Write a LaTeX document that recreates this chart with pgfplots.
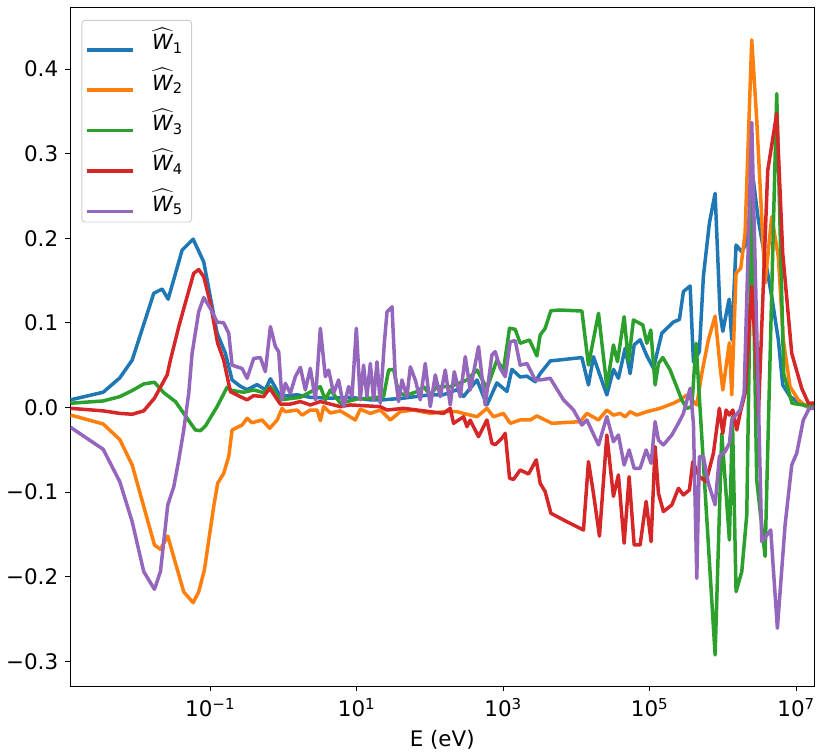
\documentclass[border=0pt]{standalone}
\usepackage{amsmath}
\usepackage{pgfplots}
\pgfplotsset{compat=1.18}
\usepackage{fontspec}
\setmainfont{DejaVu Sans}
\definecolor{c0}{HTML}{1F77B4}
\definecolor{c1}{HTML}{FF7F0E}
\definecolor{c2}{HTML}{2CA02C}
\definecolor{c3}{HTML}{D62728}
\definecolor{c4}{HTML}{9467BD}
\newcommand{\Wh}[1]{$\widehat{\text{\itshape W}}_{\text{#1}}$}
\begin{document}
\fontsize{21.5}{25}\selectfont
\begin{tikzpicture}
\begin{axis}[
  scale only axis, width=743.5bp, height=678.3bp,
  xmin=-2.906, xmax=7.244, ymin=-0.3292, ymax=0.4725,
  axis line style={line width=0.9bp, black},
  tick align=outside, xtick pos=left, ytick pos=left,
  major tick length=5bp, every tick/.style={black, line width=0.9bp},
  xtick={-1,1,3,5,7},
  xticklabels={10\textsuperscript{−1},10\textsuperscript{1},10\textsuperscript{3},10\textsuperscript{5},10\textsuperscript{7}},
  ytick={-0.3,-0.2,-0.1,0,0.1,0.2,0.3,0.4},
  yticklabels={−0.3,−0.2,−0.1,0.0,0.1,0.2,0.3,0.4},
  minor tick num=0,
  xlabel={E (eV)},
  xlabel style={yshift=2bp},
  every axis plot/.append style={line width=3.5bp, line join=round},
  legend cell align=left,
  legend image code/.code={\draw[#1] (0bp,0bp) -- (46.7bp,0bp);},
  legend style={at={(0,1)}, xshift=11bp, yshift=-12.3bp, anchor=north west,
    draw=black!20, line width=0.9bp, rounded corners=3bp, fill=white, fill opacity=0.8, text opacity=1,
    row sep=13.3bp, inner xsep=3bp, inner ysep=6.5bp, font=\fontsize{21}{24}\selectfont,
    nodes={inner xsep=6bp, inner ysep=1bp, anchor=base west}},
  /tikz/every odd column/.append style={column sep=11bp},
]
% W1
\addplot[c0] coordinates {
(-2.906,0.009)(-2.460,0.018)(-2.233,0.035)(-2.064,0.056)(-1.769,0.135)(-1.655,0.140)(-1.573,0.128)(-1.382,0.186)(-1.232,0.199)(-1.087,0.172)(-0.905,0.088)(-0.791,0.064)(-0.700,0.0325)(-0.587,0.025)(-0.495,0.021)(-0.359,0.027)(-0.246,0.021)(-0.177,0.034)(-0.041,0.013)(0.187,0.015)(0.368,0.012)(0.641,0.011)(0.914,0.012)(1.187,0.009)(1.364,0.009)(1.637,0.011)(2.005,0.015)(2.183,0.015)(2.370,0.021)(2.460,0.013)(2.643,0.0325)(2.779,0.003)(2.915,0.029)(3.052,0.019)(3.120,0.045)(3.233,0.036)(3.325,0.037)(3.438,0.0305)(3.506,0.040)(3.643,0.055)(4.075,0.059)(4.165,0.0266)(4.233,0.060)(4.416,0.0148)(4.506,0.045)(4.574,0.0345)(4.666,0.070)(4.734,0.040)(4.789,0.074)(4.870,0.080)(4.962,0.061)(5.052,0.0463)(5.166,0.0877)(5.325,0.101)(5.407,0.104)(5.461,0.137)(5.553,0.1436)(5.598,0.054)(5.679,0.066)(5.734,0.155)(5.816,0.218)(5.894,0.253)(5.962,0.111)(5.999,0.090)(6.085,0.128)(6.121,0.080)(6.180,0.192)(6.258,0.184)(6.326,0.195)(6.416,0.269)(6.484,0.2216)(6.667,0.131)(6.757,0.080)(6.817,0.0266)(6.917,0.0128)(7.053,0.005)(7.145,0.001)(7.244,0.001)
};
\addlegendentry{\Wh{1}}
% W2
\addplot[c1] coordinates {
(-2.906,-0.0089)(-2.460,-0.0195)(-2.233,-0.038)(-2.064,-0.068)(-1.906,-0.117)(-1.760,-0.1625)(-1.678,-0.1676)(-1.578,-0.152)(-1.473,-0.184)(-1.360,-0.218)(-1.232,-0.2307)(-1.156,-0.218)(-1.078,-0.192)(-0.951,-0.117)(-0.897,-0.0896)(-0.815,-0.078)(-0.746,-0.058)(-0.700,-0.0266)(-0.563,-0.0207)(-0.495,-0.0128)(-0.427,-0.018)(-0.291,-0.0148)(-0.187,-0.0246)(-0.086,-0.015)(-0.018,-0.001)(0.027,-0.005)(0.187,-0.003)(0.255,-0.009)(0.368,-0.003)(0.460,-0.003)(0.505,-0.0156)(0.550,0.001)(0.641,-0.0065)(0.778,-0.004)(0.982,-0.0148)(1.050,-0.002)(1.187,-0.007)(1.323,-0.003)(1.460,-0.0148)(1.596,-0.005)(1.778,-0.003)(2.005,-0.007)(2.187,-0.005)(2.370,-0.005)(2.460,-0.007)(2.643,-0.011)(2.779,-0.001)(2.869,-0.011)(3.005,-0.007)(3.097,-0.0187)(3.233,-0.0148)(3.370,-0.0148)(3.461,-0.010)(3.666,-0.0187)(4.052,-0.0168)(4.143,-0.007)(4.302,-0.0148)(4.416,-0.003)(4.506,-0.009)(4.598,-0.007)(4.666,-0.011)(4.734,-0.005)(4.825,-0.009)(4.962,-0.005)(5.143,-0.001)(5.325,0.005)(5.416,0.009)(5.507,0.0148)(5.576,0.009)(5.644,0.003)(5.712,0.040)(5.802,0.080)(5.894,0.108)(5.962,0.048)(5.999,0.0207)(6.089,0.0766)(6.121,0.0148)(6.180,0.1586)(6.244,0.1645)(6.303,0.206)(6.394,0.4345)(6.462,0.34)(6.576,0.147)(6.667,0.2255)(6.757,0.178)(6.825,0.080)(6.917,0.0246)(7.030,0.0089)(7.145,0.001)(7.244,0.001)
};
\addlegendentry{\Wh{2}}
% W3
\addplot[c2] coordinates {
(-2.906,0.005)(-2.460,0.0077)(-2.233,0.0128)(-2.064,0.020)(-1.906,0.0278)(-1.760,0.0298)(-1.633,0.0175)(-1.473,0.0069)(-1.314,-0.0128)(-1.201,-0.0266)(-1.132,-0.0274)(-1.064,-0.0219)(-0.905,0.001)(-0.768,0.0239)(-0.700,0.020)(-0.542,0.018)(-0.406,0.0207)(-0.269,0.0175)(-0.177,0.0246)(-0.041,0.009)(0.232,0.012)(0.505,0.0246)(0.573,0.009)(0.641,0.0207)(0.778,0.005)(1.005,0.010)(1.187,0.011)(1.368,0.0128)(1.437,0.0443)(1.505,0.045)(1.573,0.0168)(1.687,0.0148)(1.824,0.0187)(1.914,0.0246)(2.005,0.015)(2.097,0.0246)(2.278,0.0246)(2.506,0.0325)(2.643,0.0443)(2.779,0.0227)(2.915,0.056)(3.005,0.0443)(3.087,0.0936)(3.165,0.0924)(3.233,0.0759)(3.360,0.0798)(3.461,0.0609)(3.506,0.0857)(3.574,0.0936)(3.652,0.1144)(3.779,0.1152)(4.075,0.114)(4.165,0.0502)(4.302,0.1113)(4.416,0.0246)(4.506,0.0739)(4.561,0.0541)(4.652,0.1073)(4.711,0.0541)(4.779,0.1034)(4.907,0.0975)(4.962,0.0759)(5.016,0.0916)(5.075,0.0266)(5.120,0.052)(5.180,0.059)(5.280,0.0443)(5.439,0.009)(5.507,-0.001)(5.576,0.001)(5.634,0.0759)(5.894,-0.2925)(5.985,-0.0306)(6.089,-0.1566)(6.130,-0.011)(6.180,-0.2177)(6.258,-0.194)(6.326,-0.127)(6.394,0.257)(6.462,-0.0857)(6.576,-0.176)(6.735,0.371)(6.830,0.040)(6.944,0.005)(7.244,0.001)
};
\addlegendentry{\Wh{3}}
% W4
\addplot[c3] coordinates {
(-2.906,-0.001)(-2.460,-0.004)(-2.233,-0.007)(-2.064,-0.008)(-1.906,-0.004)(-1.760,0.011)(-1.587,0.0384)(-1.542,0.056)(-1.428,0.0955)(-1.314,0.131)(-1.224,0.1586)(-1.156,0.163)(-1.087,0.1546)(-0.996,0.123)(-0.897,0.0759)(-0.815,0.056)(-0.723,0.0187)(-0.587,0.0128)(-0.495,0.009)(-0.405,0.014)(-0.269,0.0128)(-0.187,0.0227)(-0.041,0.004)(0.095,0.004)(0.232,0.007)(0.368,0.003)(0.505,0.007)(0.778,0.001)(0.914,0.003)(1.323,0.001)(1.415,-0.003)(1.641,-0.001)(1.824,-0.003)(2.005,-0.005)(2.187,-0.007)(2.278,-0.001)(2.323,-0.0187)(2.460,-0.011)(2.506,-0.0227)(2.551,-0.015)(2.664,-0.0345)(2.779,-0.0148)(2.847,-0.0423)(2.892,-0.044)(2.984,-0.0364)(3.029,-0.0305)(3.088,-0.0837)(3.143,-0.085)(3.233,-0.0739)(3.347,-0.0786)(3.452,-0.062)(3.506,-0.0896)(3.574,-0.0995)(3.652,-0.125)(3.870,-0.135)(4.097,-0.1448)(4.165,-0.064)(4.233,-0.1014)(4.315,-0.152)(4.416,-0.0325)(4.506,-0.105)(4.574,-0.0798)(4.652,-0.1605)(4.720,-0.0818)(4.789,-0.1625)(4.870,-0.1625)(4.952,-0.111)(5.020,-0.1586)(5.075,-0.0463)(5.120,-0.1014)(5.188,-0.123)(5.303,-0.1152)(5.393,-0.0955)(5.461,-0.1034)(5.543,-0.0975)(5.590,-0.064)(5.679,-0.0818)(5.771,-0.0877)(5.871,-0.0541)(5.952,-0.001)(5.999,-0.0305)(6.044,-0.003)(6.089,-0.0089)(6.135,-0.003)(6.190,-0.0266)(6.235,-0.007)(6.303,0.0168)(6.394,0.1428)(6.471,0.0325)(6.484,-0.011)(6.612,0.28)(6.735,0.3475)(6.817,0.182)(6.940,0.064)(7.076,0.0227)(7.167,0.005)(7.244,0.005)
};
\addlegendentry{\Wh{4}}
% W5
\addplot[c4] coordinates {
(-2.906,-0.0234)(-2.460,-0.0494)(-2.233,-0.0877)(-2.064,-0.135)(-1.906,-0.194)(-1.760,-0.2149)(-1.678,-0.194)(-1.578,-0.1152)(-1.496,-0.0936)(-1.428,-0.062)(-1.360,-0.0266)(-1.292,0.0168)(-1.246,0.064)(-1.156,0.113)(-1.087,0.130)(-0.996,0.117)(-0.905,0.101)(-0.815,0.100)(-0.746,0.0877)(-0.700,0.050)(-0.563,0.046)(-0.495,0.0345)(-0.405,0.058)(-0.314,0.059)(-0.246,0.0423)(-0.177,0.0955)(-0.109,0.0719)(-0.064,0.066)(-0.018,0.009)(0.027,0.0286)(0.095,0.0168)(0.164,0.0364)(0.232,0.0474)(0.300,0.0207)(0.368,0.0463)(0.437,0.009)(0.505,0.0936)(0.573,0.0364)(0.618,0.0443)(0.686,0.0168)(0.754,0.0325)(0.823,0.001)(0.891,0.0246)(0.937,0.0128)(0.996,0.0936)(1.050,0.009)(1.095,0.050)(1.141,0.0128)(1.187,0.052)(1.232,0.009)(1.278,0.054)(1.323,0.005)(1.378,0.0759)(1.415,0.113)(1.483,0.119)(1.528,0.0364)(1.573,0.007)(1.619,0.0325)(1.687,0.0128)(1.733,0.048)(1.801,0.0325)(1.869,0.009)(1.937,0.052)(2.005,0.001)(2.074,0.0384)(2.142,0.0128)(2.210,0.0443)(2.278,0.003)(2.333,0.0423)(2.415,0.0128)(2.483,0.060)(2.551,0.0207)(2.664,0.0719)(2.756,0.003)(2.847,0.062)(2.892,0.066)(2.960,0.0463)(3.029,0.0364)(3.097,0.0778)(3.165,0.079)(3.233,0.050)(3.325,0.052)(3.438,0.0325)(3.506,0.0325)(3.643,0.0345)(3.824,0.009)(3.961,-0.003)(4.075,-0.0207)(4.143,-0.0148)(4.302,-0.0443)(4.416,-0.0108)(4.506,-0.0404)(4.574,-0.0325)(4.652,-0.068)(4.720,-0.0502)(4.789,-0.072)(4.870,-0.072)(4.952,-0.0502)(5.020,-0.066)(5.075,-0.0168)(5.120,-0.0384)(5.188,-0.0443)(5.303,-0.0325)(5.393,-0.0187)(5.461,-0.007)(5.553,0.0227)(5.598,-0.0187)(5.644,-0.202)(5.679,-0.058)(5.734,-0.058)(5.802,-0.0896)(5.894,-0.1152)(5.952,-0.058)(6.030,-0.0522)(6.089,-0.0423)(6.121,-0.0148)(6.235,-0.003)(6.290,0.0168)(6.394,0.337)(6.531,-0.1586)(6.653,-0.1448)(6.744,-0.261)(6.849,-0.139)(6.940,-0.068)(7.008,-0.0541)(7.098,-0.0148)(7.180,-0.001)(7.244,-0.001)
};
\addlegendentry{\Wh{5}}
\end{axis}
\pgfresetboundingbox
\path (current axis.south west) +(-70.5bp,-65bp) (current axis.north east) +(9bp,7.7bp);
\end{tikzpicture}
\end{document}
